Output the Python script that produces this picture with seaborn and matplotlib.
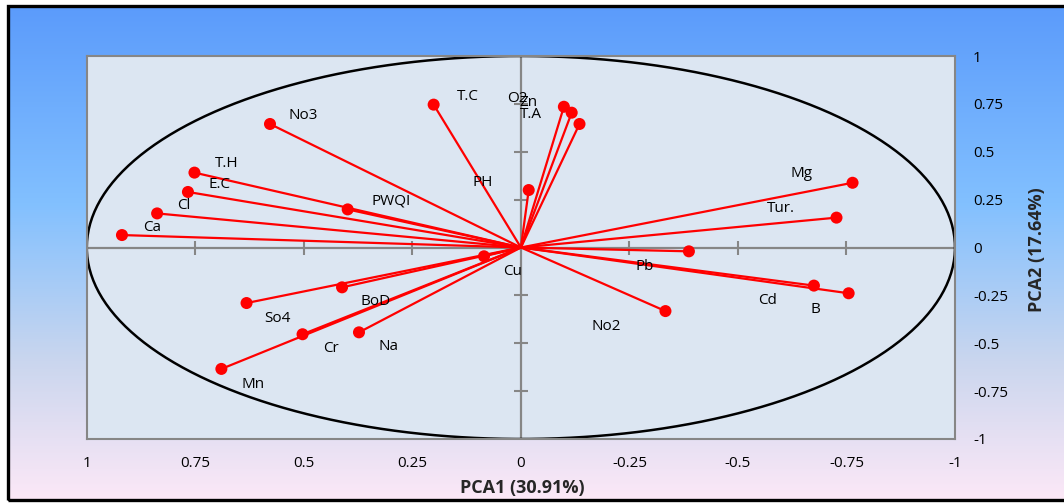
import numpy as np
import pandas as pd
import matplotlib
matplotlib.use("Agg")
import matplotlib.pyplot as plt
import seaborn as sns
from matplotlib.patches import Rectangle
from matplotlib.colors import LinearSegmentedColormap

# ---------------- data ----------------
variables = ["No3", "T.C", "T.H", "E.C", "Cl", "Ca", "PWQI", "PH", "O2", "Zn", "T.A",
             "Mg", "Tur.", "Pb", "Cd", "B", "No2", "Cu", "BoD", "So4", "Cr", "Na", "Mn"]
pca1 = [0.578, 0.201, 0.752, 0.767, 0.838, 0.919, 0.399, -0.018, -0.099, -0.117, -0.135,
        -0.764, -0.727, -0.387, -0.675, -0.755, -0.333, 0.085, 0.412, 0.632, 0.503, 0.373, 0.690]
pca2 = [0.645, 0.746, 0.391, 0.290, 0.178, 0.065, 0.199, 0.300, 0.735, 0.704, 0.645,
        0.338, 0.156, -0.020, -0.199, -0.239, -0.332, -0.046, -0.208, -0.290, -0.453, -0.443, -0.634]
tick_values = [1, 0.75, 0.5, 0.25, 0, -0.25, -0.5, -0.75, -1]
tick_labels = ["1", "0.75", "0.5", "0.25", "0", "-0.25", "-0.5", "-0.75", "-1"]
x_title = "PCA1 (30.91%)"
y_title = "PCA2 (17.64%)"

# label placement (pixel offsets from each point: dx right, dy down)
label_offsets = {
    "No3": (33, -8), "T.C": (34, -8), "T.H": (32, -9), "E.C": (32, -7), "Cl": (27, -8),
    "Ca": (30, -8), "PWQI": (43, -8), "PH": (-46, -8), "O2": (-47, -8), "Zn": (-43, -10),
    "T.A": (-49, -9), "Mg": (-51, -9), "Tur.": (-56, -9), "Pb": (-44, 15), "Cd": (-46, 15),
    "B": (-33, 16), "No2": (-59, 15), "Cu": (29, 15), "BoD": (34, 14), "So4": (31, 15),
    "Cr": (28, 14), "Na": (30, 14), "Mn": (32, 16),
}

# ---------------- style ----------------
sns.set_theme(style="white")
plt.rcParams["font.family"] = ["Open Sans", "DejaVu Sans"]

W, H = 1064, 503
fig = plt.figure(figsize=(W / 100, H / 100), dpi=100, facecolor="white")

# gradient background inside the frame
bg = fig.add_axes([8 / W, 3 / H, 1 - 8 / W, (500 - 5) / H], zorder=-5)
cmap = LinearSegmentedColormap.from_list(
    "bg", [(0.0, (91/255, 155/255, 251/255)), (0.40, (130/255, 192/255, 255/255)),
           (0.72, (202/255, 214/255, 238/255)), (1.0, (252/255, 232/255, 247/255))])
grad = np.linspace(0, 1, 256).reshape(-1, 1)
bg.imshow(grad, aspect="auto", cmap=cmap, extent=[0, 1, 0, 1], origin="upper")
bg.set_axis_off()

# frame
fig.patches.append(Rectangle((8 / W, 3 / H), 1.2, (499 - 5) / H, transform=fig.transFigure,
                             fill=False, edgecolor="black", linewidth=2.4, clip_on=False, zorder=10))

# plot area
L, R, T, B = 86.8, 955, 56, 439
ax = fig.add_axes([L / W, 1 - B / H, (R - L) / W, (B - T) / H])
ax.set_facecolor("#DCE6F2")
for s in ax.spines.values():
    s.set_color("#868686")
    s.set_linewidth(1.5)

ax.set_xlim(1, -1)
ax.set_ylim(-1, 1)

# zero axes with cross tick marks
ax.axhline(0, color="#868686", lw=1.6, zorder=1)
ax.axvline(0, color="#868686", lw=1.6, zorder=1)
inner = [t for t in tick_values if t not in (0, 1, -1)]
ax.plot(inner, [0] * len(inner), ls="none", marker="|", ms=10, mew=1.5, color="#868686", zorder=1)
ax.plot([0] * len(inner), inner, ls="none", marker="_", ms=10, mew=1.5, color="#868686", zorder=1)

# correlation circle
theta = np.linspace(0, 2 * np.pi, 400)
ax.plot(np.cos(theta), np.sin(theta), color="black", lw=1.8, zorder=2)

# vectors
df = pd.DataFrame({"var": variables, "PCA1": pca1, "PCA2": pca2})
rows = []
for v, x, y in zip(variables, pca1, pca2):
    rows.append({"var": v, "x": 0.0, "y": 0.0, "o": 0})
    rows.append({"var": v, "x": x, "y": y, "o": 1})
seg = pd.DataFrame(rows)
sns.lineplot(data=seg, x="x", y="y", units="var", estimator=None, sort=False,
             color="#FF0000", lw=1.6, ax=ax, zorder=3, legend=False)
sns.scatterplot(data=df, x="PCA1", y="PCA2", color="#FF0000", s=75, edgecolor="none",
                ax=ax, zorder=4, legend=False)

for v, x, y in zip(variables, pca1, pca2):
    dx, dy = label_offsets[v]
    ax.annotate(v, (x, y), xytext=(dx, -dy), textcoords="offset pixels",
                ha="center", va="center", fontsize=11, color="black", zorder=5)

# ticks
ax.set_xticks(tick_values)
ax.set_xticklabels(tick_labels)
ax.set_yticks(tick_values)
ax.set_yticklabels(tick_labels)
ax.yaxis.tick_right()
ax.tick_params(axis="x", length=0, pad=12, labelsize=11, colors="black")
ax.tick_params(axis="y", length=0, pad=13, labelsize=11, colors="black")
for lab in ax.get_yticklabels():
    lab.set_horizontalalignment("left")
ax.set_xlabel("")
ax.set_ylabel("")
ax.grid(False)

fig.text(522 / W, 1 - 488 / H, x_title, ha="center", va="center", fontsize=13, fontweight="bold")
fig.text(1037 / W, 1 - 250 / H, y_title, ha="center", va="center", fontsize=13,
         fontweight="bold", rotation=90)

fig.savefig("out.png", dpi=100, facecolor="white")
